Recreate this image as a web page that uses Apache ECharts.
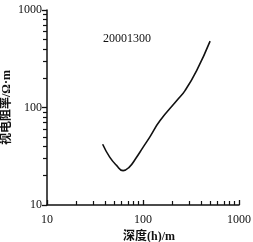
<!DOCTYPE html>
<html>
<head>
<meta charset="utf-8">
<script src="https://cdn.jsdelivr.net/npm/echarts@6/dist/echarts.min.js"></script>
<style>
  html, body { margin: 0; padding: 0; background: #fff; }
  #chart { width: 253px; height: 242px; }
</style>
</head>
<body>
<div id="chart"></div>
<script>
// 曲线数据
const depth = [38, 45, 53, 62, 72, 83, 100, 118, 150, 232, 274, 362, 500]
const resistivity = [42, 31, 25.5, 22.5, 24.5, 29.5, 39, 50, 73, 122, 149, 239, 480]
const title = '20001300'

const font = '"Liberation Serif", "Noto Sans CJK SC", serif'
const chart = echarts.init(document.getElementById('chart'))

const axisCommon = {
  type: 'log',
  logBase: 10,
  min: 10,
  max: 1000,
  axisLine: { show: true, lineStyle: { color: '#111', width: 1.5 } },
  axisTick: { show: true, length: 5, lineStyle: { color: '#111', width: 1.3 } },
  minorTick: { show: true, splitNumber: 9, length: 4, lineStyle: { color: '#111', width: 1.2 } },
  axisLabel: { formatter: v => String(v), color: '#111', fontFamily: font, fontSize: 12 },
  splitLine: { show: false },
  nameLocation: 'middle',
  nameMoveOverlap: false,
  nameTextStyle: { color: '#111', fontFamily: font, fontSize: 12, fontWeight: 'bold' }
}

chart.setOption({
  animation: false,
  grid: { left: 47, right: 14, top: 10, bottom: 37, outerBoundsMode: 'none' },
  title: {
    text: title,
    left: 98,
    top: 28,
    textStyle: { fontFamily: font, fontSize: 12, fontWeight: 'normal', color: '#111' }
  },
  xAxis: Object.assign({}, axisCommon, {
    name: '深度(h)/m',
    nameGap: 26,
    nameTextStyle: Object.assign({}, axisCommon.nameTextStyle, { padding: [0, 0, 0, 12] }),
    axisTick: Object.assign({}, axisCommon.axisTick, { inside: true }),
    axisLabel: Object.assign({}, axisCommon.axisLabel, { margin: 9 })
  }),
  yAxis: Object.assign({}, axisCommon, {
    name: '视电阻率/Ω·m',
    nameGap: 34,
    axisTick: Object.assign({}, axisCommon.axisTick, { inside: false }),
    axisLabel: Object.assign({}, axisCommon.axisLabel, { margin: 5 })
  }),
  series: [{
    type: 'line',
    data: depth.map((d, i) => [d, resistivity[i]]),
    smooth: 0.5,
    symbol: 'none',
    lineStyle: { color: '#111', width: 1.6 }
  }]
})
</script>
</body>
</html>
